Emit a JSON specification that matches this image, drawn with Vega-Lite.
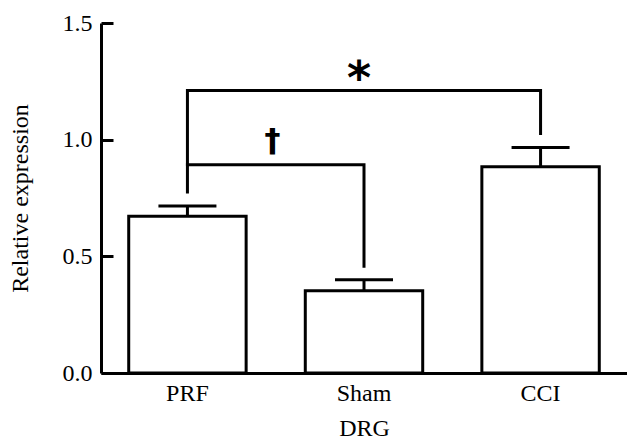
{
  "$schema": "https://vega.github.io/schema/vega-lite/v6.json",
  "width": 526,
  "height": 350,
  "autosize": {"type": "none"},
  "padding": {"left": 101, "top": 23, "right": 0, "bottom": 69},
  "background": "white",
  "config": {
    "view": {"stroke": null},
    "font": "Liberation Serif",
    "axis": {
      "domainColor": "black",
      "domainWidth": 3,
      "tickColor": "black",
      "tickWidth": 3,
      "tickSize": -12,
      "labelFont": "Liberation Serif",
      "labelFontSize": 24,
      "labelColor": "black",
      "titleFont": "Liberation Serif",
      "titleFontSize": 24,
      "titleFontWeight": "normal",
      "titleColor": "black",
      "grid": false
    }
  },
  "datasets": {
    "bars": [
      {"group": "PRF", "mean": 0.672, "upper": 0.716},
      {"group": "Sham", "mean": 0.353, "upper": 0.40},
      {"group": "CCI", "mean": 0.884, "upper": 0.966}
    ],
    "brackets": [
      {"bracket": "star", "i": 1, "group": "PRF", "y": 0.776},
      {"bracket": "star", "i": 2, "group": "PRF", "y": 1.211},
      {"bracket": "star", "i": 3, "group": "CCI", "y": 1.211},
      {"bracket": "star", "i": 4, "group": "CCI", "y": 1.026},
      {"bracket": "dagger", "i": 1, "group": "PRF", "y": 0.892},
      {"bracket": "dagger", "i": 2, "group": "Sham", "y": 0.892},
      {"bracket": "dagger", "i": 3, "group": "Sham", "y": 0.457}
    ]
  },
  "layer": [
    {
      "data": {"name": "bars"},
      "mark": {"type": "bar", "fill": "white", "stroke": "black", "strokeWidth": 3},
      "encoding": {
        "x": {
          "field": "group", "type": "nominal", "sort": ["PRF", "Sham", "CCI"],
          "scale": {"paddingInner": 0.335, "paddingOuter": 0.157},
          "axis": {"title": "DRG", "labelAngle": 0, "labelPadding": 20, "titlePadding": 11}
        },
        "y": {
          "field": "mean", "type": "quantitative",
          "scale": {"domain": [0, 1.5], "nice": false},
          "axis": {"title": "Relative expression", "values": [0, 0.5, 1, 1.5], "format": ".1f", "labelPadding": 21, "titlePadding": 30}
        }
      }
    },
    {
      "data": {"name": "bars"},
      "mark": {"type": "rule", "stroke": "black", "strokeWidth": 3},
      "encoding": {
        "x": {"field": "group", "type": "nominal", "sort": ["PRF", "Sham", "CCI"]},
        "y": {"field": "mean", "type": "quantitative"},
        "y2": {"field": "upper"}
      }
    },
    {
      "data": {"name": "bars"},
      "mark": {"type": "tick", "color": "black", "size": 58, "thickness": 3, "opacity": 1},
      "encoding": {
        "x": {"field": "group", "type": "nominal", "sort": ["PRF", "Sham", "CCI"]},
        "y": {"field": "upper", "type": "quantitative"}
      }
    },
    {
      "data": {"name": "brackets"},
      "mark": {"type": "line", "color": "black", "strokeWidth": 3, "strokeJoin": "miter", "strokeCap": "square"},
      "encoding": {
        "x": {"field": "group", "type": "nominal", "sort": ["PRF", "Sham", "CCI"]},
        "y": {"field": "y", "type": "quantitative"},
        "detail": {"field": "bracket"},
        "order": {"field": "i"}
      }
    },
    {
      "data": {"values": [{"group": "Sham", "y": 1.306, "label": "*"}]},
      "mark": {"type": "text", "font": "DejaVu Sans", "fontWeight": "bold", "fontSize": 46, "baseline": "middle", "dy": 12, "dx": -5, "color": "black"},
      "encoding": {
        "x": {"field": "group", "type": "nominal", "sort": ["PRF", "Sham", "CCI"]},
        "y": {"field": "y", "type": "quantitative"},
        "text": {"field": "label"}
      }
    },
    {
      "data": {"values": [{"group": "PRF", "y": 0.996, "label": "†"}]},
      "mark": {"type": "text", "font": "DejaVu Sans", "fontWeight": "bold", "fontSize": 32, "baseline": "middle", "dx": 85, "color": "black"},
      "encoding": {
        "x": {"field": "group", "type": "nominal", "sort": ["PRF", "Sham", "CCI"]},
        "y": {"field": "y", "type": "quantitative"},
        "text": {"field": "label"}
      }
    }
  ]
}
